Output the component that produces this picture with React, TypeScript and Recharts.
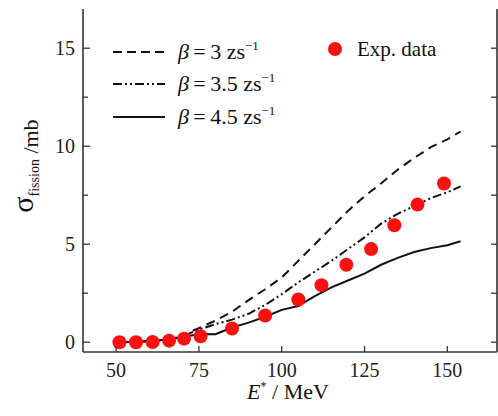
import React from 'react';
import { ComposedChart, Line, Scatter, XAxis, YAxis } from 'recharts';

// ---- data ----
const lineEnergies = [51, 55, 60, 65, 70, 75, 80, 85, 90, 95, 100, 105, 110, 115, 120, 125, 130, 135, 140, 145, 150, 154];
const sigmaBeta3 = [0, 0.01, 0.04, 0.12, 0.35, 0.72, 1.1, 1.55, 2.15, 2.7, 3.3, 4.15, 5.0, 5.85, 6.7, 7.45, 8.1, 8.8, 9.4, 9.95, 10.35, 10.75];
const sigmaBeta35 = [0, 0.01, 0.04, 0.11, 0.3, 0.65, 0.92, 1.15, 1.45, 1.9, 2.45, 3.05, 3.6, 4.15, 4.75, 5.35, 6.05, 6.55, 6.95, 7.35, 7.65, 7.95];
const sigmaBeta45 = [0, 0.01, 0.08, 0.12, 0.25, 0.42, 0.41, 0.75, 1.0, 1.3, 1.65, 1.85, 2.35, 2.8, 3.15, 3.5, 3.95, 4.3, 4.6, 4.8, 4.95, 5.15];

const expEnergies = [51, 56, 61, 66, 70.5, 75.5, 85, 95, 105, 112, 119.5, 127, 134, 141, 149];
const expSigma = [0, 0, 0.01, 0.08, 0.18, 0.3, 0.7, 1.36, 2.18, 2.91, 3.95, 4.75, 5.97, 7.02, 8.1];

const xTicks = [50, 75, 100, 125, 150];
const yTicks = [0, 2.5, 5, 7.5, 10, 12.5, 15];
const xDomain = [40, 165];
const yDomain = [-0.5, 17];

const toPoints = (xs: number[], ys: number[]) => xs.map((e, i) => ({ e, s: ys[i] }));
const beta3Data = toPoints(lineEnergies, sigmaBeta3);
const beta35Data = toPoints(lineEnergies, sigmaBeta35);
const beta45Data = toPoints(lineEnergies, sigmaBeta45);
const expData = toPoints(expEnergies, expSigma);

const FONT = "'Liberation Serif', 'Times New Roman', serif";
const AXIS = '#333';
const INK = '#111';
const RED = '#ff1010';

const BottomTick = (props: any) => {
  const { x, y, payload } = props;
  return (
    <g>
      <line x1={x} y1={y} x2={x} y2={y - 6} stroke={AXIS} strokeWidth={1.3} />
      <text x={x} y={y + 25} textAnchor="middle" fontFamily={FONT} fontSize={20} fill="#222">
        {payload.value}
      </text>
    </g>
  );
};
const TopTick = (props: any) => {
  const { x, y } = props;
  return <line x1={x} y1={y} x2={x} y2={y + 6} stroke={AXIS} strokeWidth={1.3} />;
};
const LeftTick = (props: any) => {
  const { x, y, payload } = props;
  const major = payload.value % 5 === 0;
  return (
    <g>
      <line x1={x} y1={y} x2={x + (major ? 7 : 5)} y2={y} stroke={AXIS} strokeWidth={1.3} />
      {major && (
        <text x={x - 8} y={y + 7} textAnchor="end" fontFamily={FONT} fontSize={20} fill="#222">
          {payload.value}
        </text>
      )}
    </g>
  );
};
const RightTick = (props: any) => {
  const { x, y } = props;
  return <line x1={x} y1={y} x2={x - 6} y2={y} stroke={AXIS} strokeWidth={1.3} />;
};

const Dot = (props: any) => <circle cx={props.cx} cy={props.cy} r={7} fill={RED} />;

const legendRows = [
  { label: '3', dash: '9 5', y: 52 },
  { label: '3.5', dash: '9 3 2 3 2 3', y: 84 },
  { label: '4.5', dash: undefined as string | undefined, y: 117 },
];

export default function App() {
  return (
    <div style={{ position: 'absolute', left: 0, top: 0, width: 498, height: 416, background: '#fff' }}>
      <ComposedChart width={498} height={416} margin={{ top: 9, right: 0, bottom: 0, left: 0 }}>
        <XAxis
          xAxisId={0}
          dataKey="e"
          type="number"
          domain={xDomain}
          ticks={xTicks}
          allowDataOverflow
          height={64}
          tickSize={0}
          tickMargin={0}
          interval={0}
          tickLine={false}
          axisLine={{ stroke: AXIS, strokeWidth: 1.6 }}
          tick={<BottomTick />}
        />
        <XAxis
          xAxisId="t"
          orientation="top"
          dataKey="e"
          type="number"
          domain={xDomain}
          ticks={xTicks}
          allowDataOverflow
          height={0}
          tickSize={0}
          tickMargin={0}
          interval={0}
          tickLine={false}
          axisLine={{ stroke: AXIS, strokeWidth: 1.6 }}
          tick={<TopTick />}
        />
        <YAxis
          yAxisId={0}
          dataKey="s"
          type="number"
          domain={yDomain}
          ticks={yTicks}
          allowDataOverflow
          width={83}
          tickSize={0}
          tickMargin={0}
          interval={0}
          tickLine={false}
          axisLine={{ stroke: AXIS, strokeWidth: 1.6 }}
          tick={<LeftTick />}
        />
        <YAxis
          yAxisId="r"
          orientation="right"
          dataKey="s"
          type="number"
          domain={yDomain}
          ticks={yTicks}
          allowDataOverflow
          width={1}
          tickSize={0}
          tickMargin={0}
          interval={0}
          tickLine={false}
          axisLine={{ stroke: AXIS, strokeWidth: 1.6 }}
          tick={<RightTick />}
        />
        <Line data={beta3Data} dataKey="s" type="linear" stroke={INK} strokeWidth={2} strokeDasharray="9 6" dot={false} isAnimationActive={false} />
        <Line data={beta35Data} dataKey="s" type="linear" stroke={INK} strokeWidth={2} strokeDasharray="9 3 2 3 2 3" dot={false} isAnimationActive={false} />
        <Line data={beta45Data} dataKey="s" type="linear" stroke={INK} strokeWidth={2} dot={false} isAnimationActive={false} />
        <Scatter data={expData} dataKey="s" fill={RED} shape={<Dot />} isAnimationActive={false} />
      </ComposedChart>
      <svg width={498} height={416} style={{ position: 'absolute', left: 0, top: 0, pointerEvents: 'none' }}>
        {legendRows.map((r) => (
          <g key={r.label}>
            <line x1={113} y1={r.y} x2={165} y2={r.y} stroke={INK} strokeWidth={2} strokeDasharray={r.dash} />
            <text x={178} y={r.y + 7} fontFamily={FONT} fontSize={22} fill="#111">
              <tspan fontStyle="italic">β</tspan>{'\u2009=\u2009'}{r.label} zs
              <tspan fontSize={13} dy={-9}>−1</tspan>
            </text>
          </g>
        ))}
        <circle cx={335} cy={49} r={7} fill={RED} />
        <text x={357} y={56} fontFamily={FONT} fontSize={21} fill="#111">Exp. data</text>
        <g transform="translate(33,166) rotate(-90)">
          <text x={0} y={0} textAnchor="middle" fontFamily={FONT} fill="#111">
            <tspan fontSize={30}>σ</tspan>
            <tspan fontSize={14} dy={6}>fission</tspan>
            <tspan fontSize={22} dy={-1}> /mb</tspan>
          </text>
        </g>
        <text x={288} y={399} textAnchor="middle" fontFamily={FONT} fontSize={22} fill="#111">
          <tspan fontStyle="italic">E</tspan>
          <tspan fontSize={12} dy={-9}>*</tspan>
          <tspan dy={9}> / MeV</tspan>
        </text>
      </svg>
    </div>
  );
}
